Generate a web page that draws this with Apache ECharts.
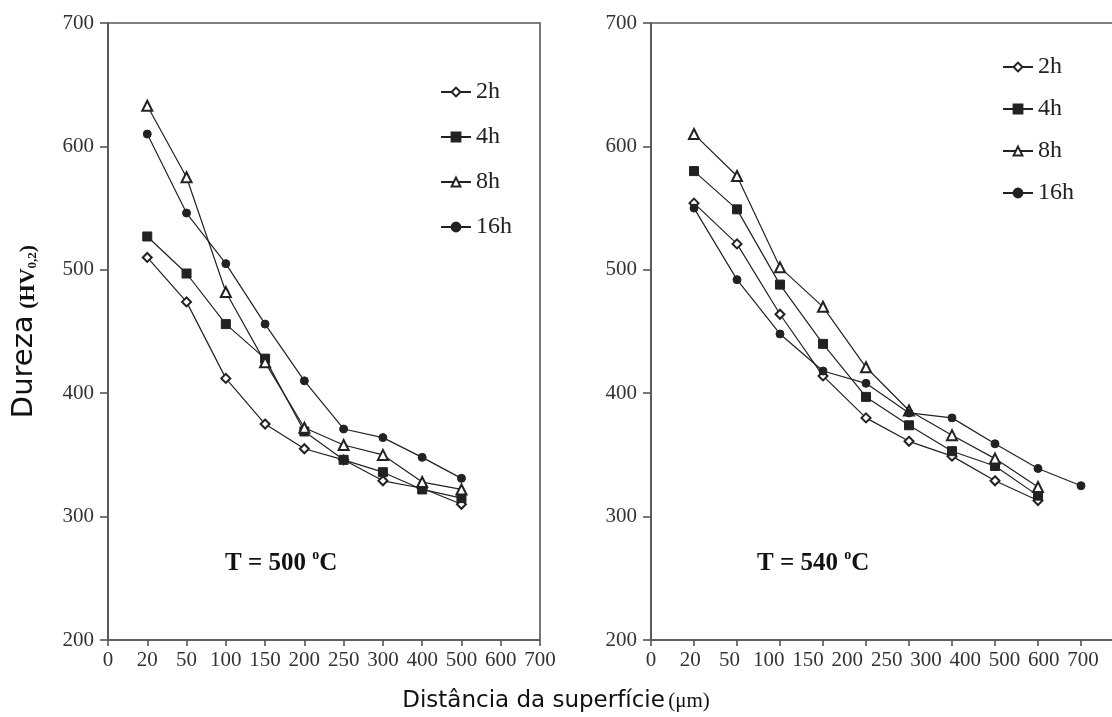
<!DOCTYPE html>
<html>
<head>
<meta charset="utf-8">
<script src="https://cdn.jsdelivr.net/npm/echarts@6/dist/echarts.min.js"></script>
<style>html,body{margin:0;padding:0;background:#fff}#c{width:1112px;height:717px}</style>
</head>
<body>
<div id="c"></div>
<script>
// Tick labels of the distance axis (µm)
const xTickLabels = ['0','20','50','100','150','200','250','300','400','500','600','700'];
const yMin = 200, yMax = 700, yStep = 100;
const seriesNames = ['2h','4h','8h','16h'];

// T = 500 °C panel
const dist500 = ['20','50','100','150','200','250','300','400','500'];
const h2_500  = [510, 474, 412, 375, 355, 346, 329, 323, 310];
const h4_500  = [527, 497, 456, 428, 369, 346, 336, 322, 315];
const h8_500  = [633, 575, 482, 425, 372, 358, 350, 328, 322];
const h16_500 = [610, 546, 505, 456, 410, 371, 364, 348, 331];

// T = 540 °C panel (points sit on the panel's own tick slots)
const dist540 = ['20','50','100','150','200','250','300','400','500','600'];
const h2_540  = [554, 521, 464, 414, 380, 361, 349, 329, 313];
const h4_540  = [580, 549, 488, 440, 397, 374, 353, 341, 317];
const h8_540  = [610, 576, 502, 470, 421, 386, 366, 347, 324];
const h16_540 = [550, 492, 448, 418, 408, 384, 380, 359, 339, 325];

const serif = 'Liberation Serif';
const sans = 'DejaVu Sans';
const ink = '#222';
const axisCol = '#555';

const styles = {
  '2h':  {symbol: 'emptyDiamond', symbolSize: 9},
  '4h':  {symbol: 'rect', symbolSize: 9},
  '8h':  {symbol: 'emptyTriangle', symbolSize: 10},
  '16h': {symbol: 'circle', symbolSize: 8}
};

function zip(d, v) { return v.map((y, i) => [d[i], y]); }

function mkSeries(name, dist, vals, idx) {
  return Object.assign({
    type: 'line', name: name, xAxisIndex: idx, yAxisIndex: idx,
    data: zip(dist, vals),
    lineStyle: {color: ink, width: 1.2},
    itemStyle: {color: ink, borderColor: ink, borderWidth: 1},
    showAllSymbol: true, animation: false, z: 3
  }, styles[name]);
}

const series = [
  mkSeries('2h', dist500, h2_500, 0),
  mkSeries('4h', dist500, h4_500, 0),
  mkSeries('8h', dist500, h8_500, 0),
  mkSeries('16h', dist500, h16_500, 0),
  mkSeries('2h', dist540, h2_540, 1),
  mkSeries('4h', dist540, h4_540, 1),
  mkSeries('8h', dist540, h8_540, 1),
  mkSeries('16h', dist540, h16_540, 1)
];

const labelStyle = {fontFamily: serif, fontSize: 21, color: '#333'};

function xAx(gi, showLabels, showLine) {
  return {
    type: 'category', gridIndex: gi, data: xTickLabels, boundaryGap: false,
    axisLine: {show: showLine, onZero: false, lineStyle: {color: axisCol, width: 1.6}},
    axisTick: {show: showLine, inside: false, length: 6, alignWithLabel: true, lineStyle: {color: axisCol, width: 1.6}},
    axisLabel: Object.assign({show: showLabels, margin: 10, interval: 0}, labelStyle),
    splitLine: {show: false}
  };
}
function yAx(gi, extra) {
  return Object.assign({
    type: 'value', gridIndex: gi, min: yMin, max: yMax, interval: yStep,
    axisLine: {show: true, lineStyle: {color: axisCol, width: 1.6}},
    axisTick: {show: true, length: 8, lineStyle: {color: axisCol, width: 1.6}},
    axisLabel: Object.assign({margin: 14}, labelStyle),
    splitLine: {show: false}
  }, extra || {});
}

const legendBase = {
  orient: 'vertical', itemWidth: 30, itemHeight: 11, padding: 0,
  textStyle: {fontFamily: serif, fontSize: 24, color: '#222', lineHeight: 24},
  data: seriesNames, selectedMode: false
};

const tRich = {
  t: {fontFamily: serif, fontWeight: 'bold', fontSize: 25, fill: '#111', lineHeight: 28, verticalAlign: 'bottom'},
  o: {fontFamily: serif, fontWeight: 'bold', fontSize: 14, fill: '#111', lineHeight: 28, verticalAlign: 'top'}
};

const option = {
  backgroundColor: '#fff',
  animation: false,
  grid: [
    {left: 108, top: 23, width: 432, height: 617, show: true, borderColor: axisCol, borderWidth: 1.6, backgroundColor: 'transparent', outerBoundsMode: 'none', containLabel: false},
    {left: 651, top: 23, width: 473, height: 617, show: true, borderColor: axisCol, borderWidth: 1.6, backgroundColor: 'transparent', outerBoundsMode: 'none', containLabel: false},
    {left: 651, top: 23, width: 432, height: 617, show: false, outerBoundsMode: 'none', containLabel: false}
  ],
  xAxis: [xAx(0, true, true), xAx(1, false, true), xAx(2, true, false)],
  yAxis: [
    yAx(0, {
      name: '{a|Dureza}  {b|(HV}{s|0,2}{b|)}',
      nameLocation: 'middle', nameRotate: 90, nameGap: 69,
      nameTextStyle: {
        rich: {
          a: {fontFamily: sans, fontSize: 29, color: '#111', lineHeight: 34, verticalAlign: 'bottom'},
          b: {fontFamily: serif, fontWeight: 'bold', fontSize: 22, color: '#111', lineHeight: 34, verticalAlign: 'bottom'},
          s: {fontFamily: serif, fontWeight: 'bold', fontSize: 13, color: '#111', lineHeight: 26, verticalAlign: 'bottom'}
        }
      }
    }),
    yAx(1),
    {type: 'value', gridIndex: 2, min: yMin, max: yMax, show: false}
  ],
  legend: [
    Object.assign({left: 440, top: 80, itemGap: 21}, legendBase),
    Object.assign({left: 1002, top: 55, itemGap: 18}, legendBase)
  ],
  graphic: [
    {type: 'text', left: 'center', top: 690, style: {
      text: '{a|Distância da superfície} {b|(μm)}',
      rich: {
        a: {fontFamily: sans, fontSize: 23, fill: '#111'},
        b: {fontFamily: serif, fontSize: 21, fill: '#111'}
      }
    }},
    {type: 'text', left: 225, top: 548, style: {text: '{t|T = 500 }{o|o}{t|C}', rich: tRich}},
    {type: 'text', left: 757, top: 548, style: {text: '{t|T = 540 }{o|o}{t|C}', rich: tRich}}
  ],
  series: series
};

const chart = echarts.init(document.getElementById('c'), null, {renderer: 'canvas'});
chart.setOption(option);
</script>
</body>
</html>
